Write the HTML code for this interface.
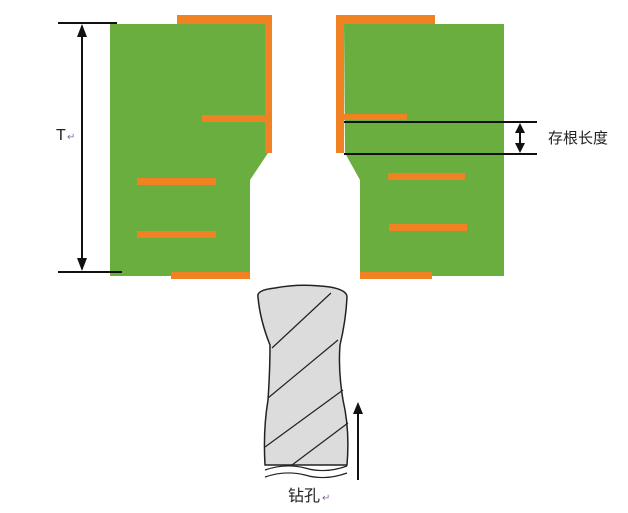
<!DOCTYPE html>
<html><head><meta charset="utf-8"><style>
html,body{margin:0;padding:0;background:#fff;}
svg{display:block;}
text{font-family:"Liberation Sans","Noto Sans CJK SC",sans-serif;}
</style></head><body>
<svg width="628" height="513" viewBox="0 0 628 513" xmlns="http://www.w3.org/2000/svg">
<defs>
<marker id="ah" markerWidth="8" markerHeight="10" refX="4" refY="5" orient="auto-start-reverse" markerUnits="userSpaceOnUse">
<path d="M0,0 L10,5 L0,10 Z" fill="#111" transform="scale(0.8,1)"/>
</marker>
</defs>
<!-- left block -->
<path d="M110,24 L268,24 L268,153 L250,180 L250,276 L110,276 Z" fill="#6aae3f"/>
<rect x="177" y="15" width="95" height="9" fill="#f08224"/>
<rect x="265" y="15" width="7" height="138" fill="#f08224"/>
<rect x="202" y="115" width="66" height="7" fill="#f08224"/>
<rect x="137" y="178" width="79" height="7" fill="#f08224"/>
<rect x="137" y="231" width="79" height="7" fill="#f08224"/>
<rect x="171" y="272" width="79" height="7" fill="#f08224"/>
<!-- right block -->
<path d="M344,24 L504,24 L504,276 L360,276 L360,180 L345,153 Z" fill="#6aae3f"/>
<rect x="336" y="15" width="99" height="9" fill="#f08224"/>
<rect x="336" y="15" width="8" height="138" fill="#f08224"/>
<rect x="344" y="114" width="63" height="6" fill="#f08224"/>
<rect x="388" y="173" width="77" height="7" fill="#f08224"/>
<rect x="389" y="224" width="78" height="7" fill="#f08224"/>
<rect x="360" y="272" width="72" height="7" fill="#f08224"/>
<!-- T dimension -->
<line x1="58" y1="23" x2="117" y2="23" stroke="#111" stroke-width="2"/>
<line x1="58" y1="272" x2="122" y2="272" stroke="#111" stroke-width="2"/>
<line x1="82" y1="26" x2="82" y2="269" stroke="#111" stroke-width="2"/>
<path d="M82,24 L77,37 L87,37 Z" fill="#111"/>
<path d="M82,271 L77,258 L87,258 Z" fill="#111"/>
<text x="56" y="140" font-size="16" fill="#222">T</text>
<text x="67" y="140" font-size="10" fill="#8a6aa0">↵</text>
<!-- stub length -->
<line x1="344" y1="122" x2="537" y2="122" stroke="#111" stroke-width="2"/>
<line x1="344" y1="154" x2="537" y2="154" stroke="#111" stroke-width="2"/>
<line x1="520" y1="126" x2="520" y2="150" stroke="#111" stroke-width="2"/>
<path d="M520,123 L515,133 L525,133 Z" fill="#111"/>
<path d="M520,153 L515,143 L525,143 Z" fill="#111"/>
<text x="548" y="143" font-size="15" fill="#222">存根长度</text>
<!-- drill -->
<path d="M258,297 Q256,290 275,288 Q300,283 330,287 Q347,290 347,297 Q346,320 340,345 Q338,370 343,400 Q350,430 347,465 L265,465 Q263,430 268,400 Q270,370 270,345 Q260,320 258,297 Z" fill="#dcdcdc" stroke="#222" stroke-width="1.5"/>
<g stroke="#222" stroke-width="1.2" fill="none">
<line x1="272" y1="348" x2="331" y2="293"/>
<line x1="268" y1="398" x2="338" y2="340"/>
<line x1="265" y1="447" x2="343" y2="390"/>
<line x1="292" y1="465" x2="348" y2="423"/>
<path d="M265,470 Q285,463 305,468 Q325,474 347,466"/>
<path d="M265,477 Q285,470 305,475 Q325,481 347,473"/>
</g>
<line x1="358" y1="480" x2="358" y2="412" stroke="#111" stroke-width="2"/>
<path d="M358,402 L353,414 L363,414 Z" fill="#111"/>
<text x="288" y="501" font-size="16" fill="#222">钻孔</text>
<text x="322" y="501" font-size="10" fill="#8a6aa0">↵</text>
</svg>
</body></html>
